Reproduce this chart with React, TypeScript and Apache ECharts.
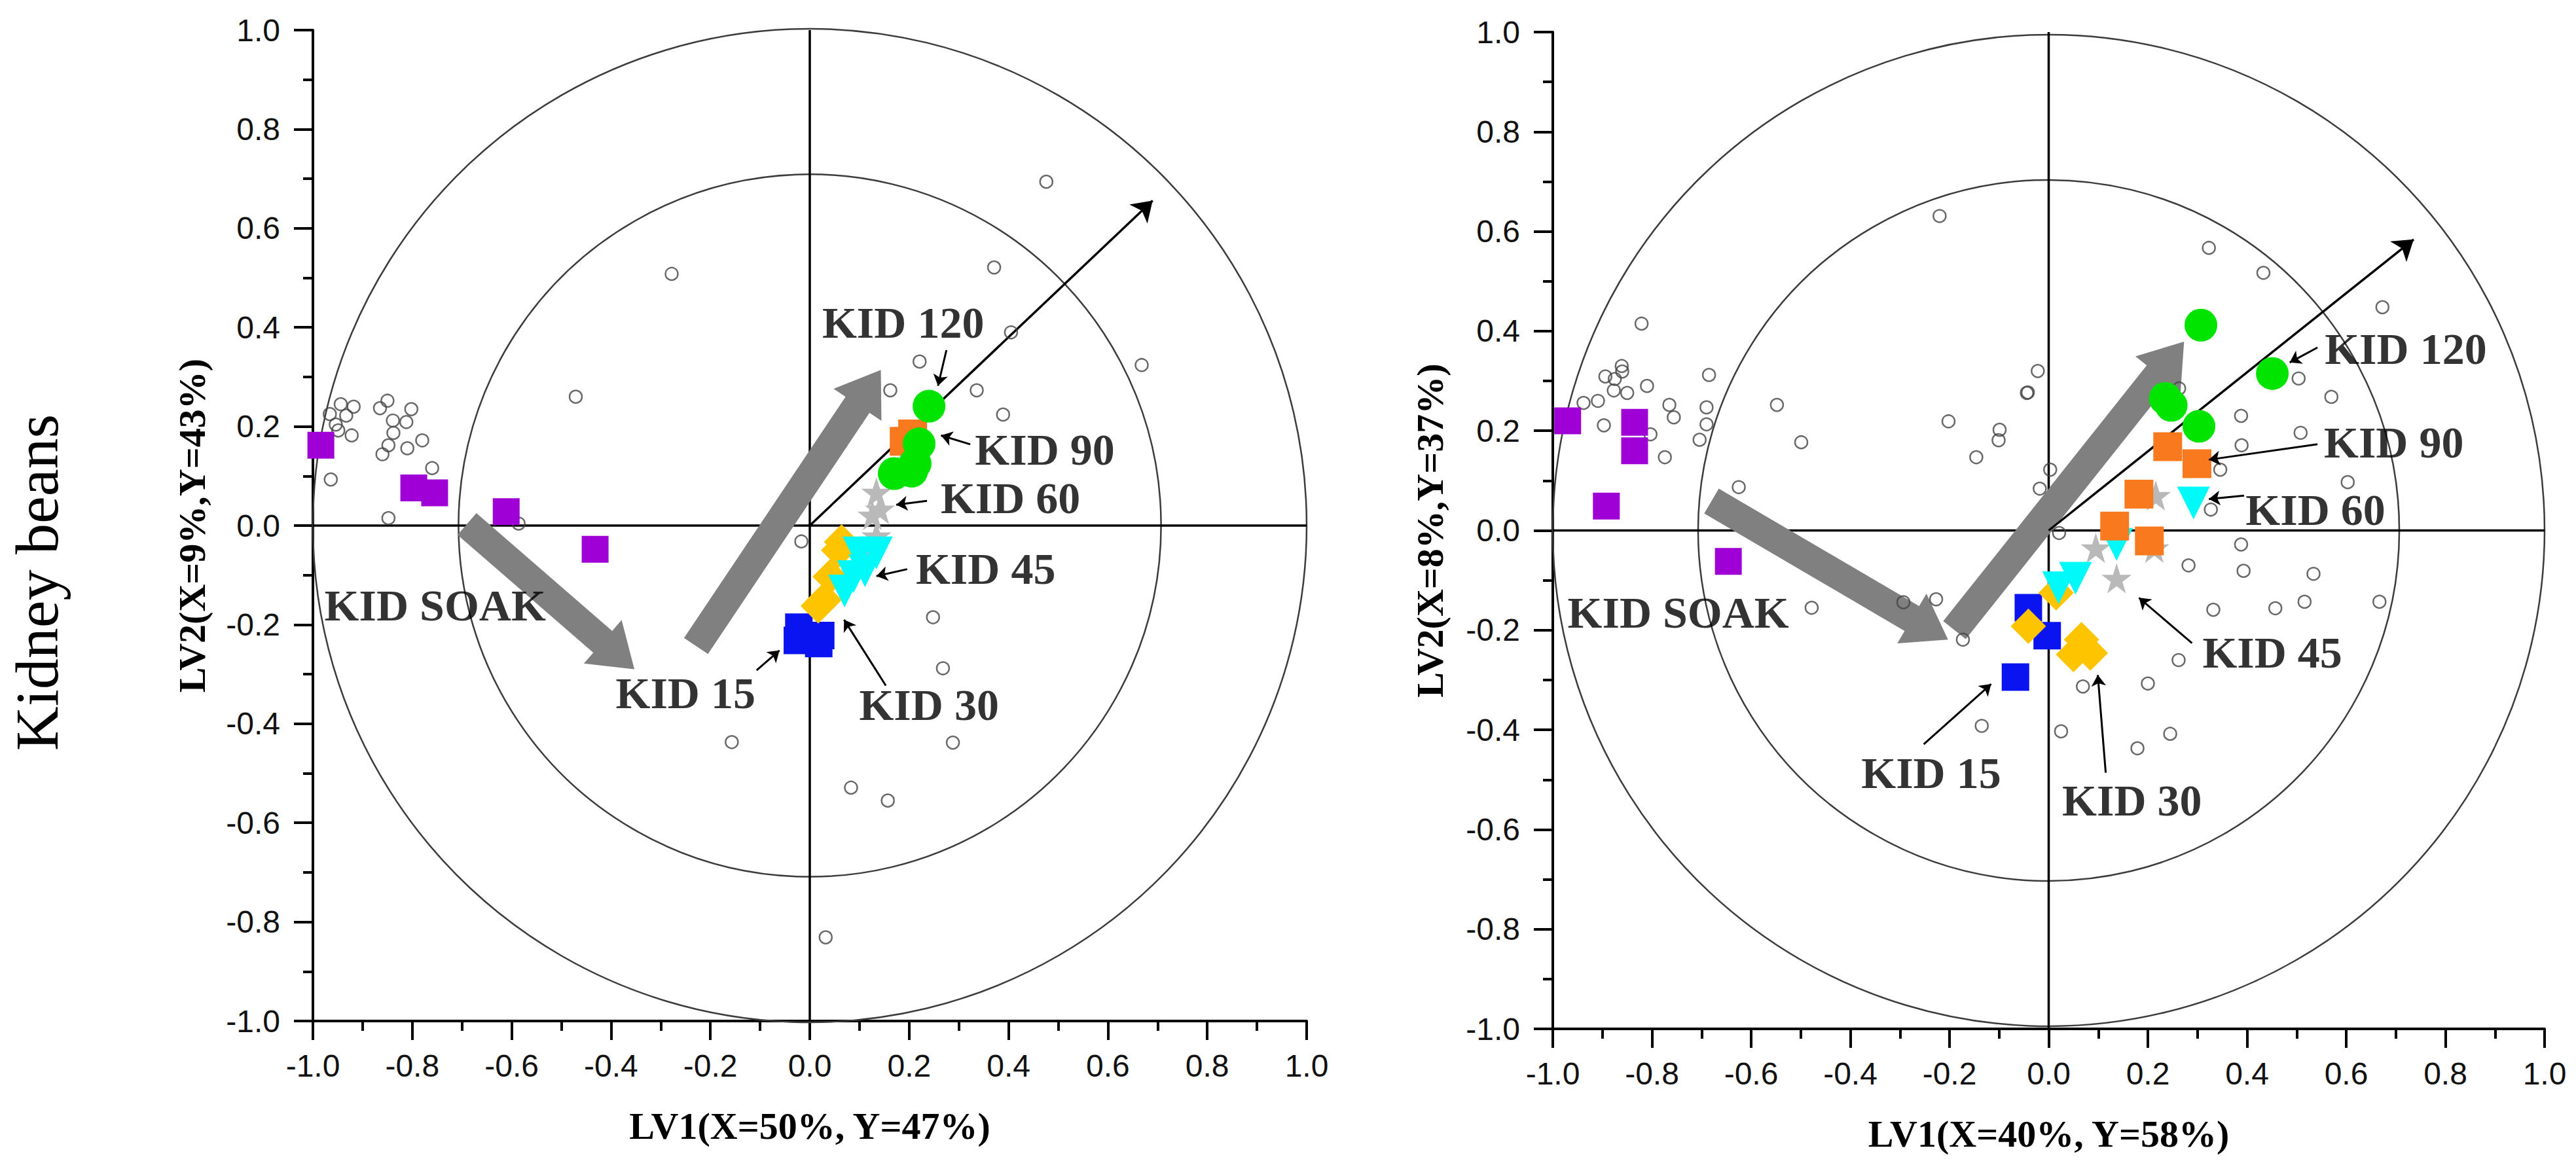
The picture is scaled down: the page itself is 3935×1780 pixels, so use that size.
import React, { useEffect, useRef } from "react";
import * as echarts from "echarts";

// ---------- data ----------
const tickValues = [-1, 1]; // axis range
const refCircles = [1.0, 0.707];
const zeroLines = [
  [-1, 0, 1, 0],
  [0, -1, 0, 1],
];

const xNames = ["LV1(X=50%, Y=47%)", "LV1(X=40%, Y=58%)"];
const yNames = ["LV2(X=9%,Y=43%)", "LV2(X=8%,Y=37%)"];
const sideTitle = "Kidney beans";

// Left panel
const leftVars = [
  [-0.966, 0.225], [-0.944, 0.245], [-0.918, 0.24], [-0.933, 0.222], [-0.954, 0.204],
  [-0.949, 0.192], [-0.922, 0.182], [-0.865, 0.237], [-0.85, 0.252], [-0.802, 0.235],
  [-0.839, 0.212], [-0.812, 0.209], [-0.838, 0.187], [-0.848, 0.162], [-0.86, 0.144],
  [-0.81, 0.156], [-0.78, 0.172], [-0.76, 0.116], [-0.964, 0.093], [-0.848, 0.015],
  [-0.471, 0.26], [-0.586, 0.004], [0.476, 0.694], [-0.278, 0.508], [0.371, 0.521],
  [0.405, 0.39], [0.221, 0.331], [0.668, 0.324], [0.162, 0.273], [0.336, 0.273],
  [0.389, 0.224], [-0.017, -0.032], [0.248, -0.185], [0.268, -0.288], [-0.157, -0.437],
  [0.288, -0.438], [0.083, -0.529], [0.157, -0.555], [0.032, -0.831],
];
const leftPurple = [[-0.984, 0.162], [-0.797, 0.076], [-0.755, 0.066], [-0.611, 0.028], [-0.432, -0.048]];
const leftBlue = [[-0.022, -0.205], [0.022, -0.222], [-0.025, -0.232], [0.018, -0.238]];
const leftYellow = [[0.064, -0.033], [0.058, -0.05], [0.041, -0.103], [0.029, -0.15], [0.017, -0.162]];
const leftStars = [[0.134, 0.067], [0.141, 0.033], [0.126, 0.021], [0.134, -0.021], [0.122, -0.044]];
const leftCyan = [[0.099, -0.055], [0.134, -0.055], [0.111, -0.091], [0.088, -0.103], [0.07, -0.132]];
const leftOrange = [[0.207, 0.185], [0.19, 0.17]];
const leftGreen = [[0.24, 0.241], [0.22, 0.165], [0.212, 0.125], [0.17, 0.105], [0.205, 0.11]];

const leftTrend = [[0, 0], [0.69, 0.656]];
const leftGrayArrows = [
  [-0.69, 0.003, -0.353, -0.29],
  [-0.229, -0.243, 0.143, 0.314],
];
const leftLabelNames = ["KID 120", "KID 90", "KID 60", "KID 45", "KID 30", "KID 15", "KID SOAK"];
const leftLabelPos = [[0.188, 0.409], [0.473, 0.153], [0.404, 0.055], [0.354, -0.087], [0.24, -0.362], [-0.25, -0.338], [-0.754, -0.161]];
const leftPointers = [
  [[0.275, 0.354], [0.258, 0.282]],
  [[0.323, 0.164], [0.264, 0.182]],
  [[0.236, 0.05], [0.174, 0.042]],
  [[0.196, -0.088], [0.134, -0.102]],
  [[0.153, -0.323], [0.069, -0.19]],
  [[-0.107, -0.292], [-0.061, -0.252]],
];

// Right panel
const rightVars = [
  [-0.821, 0.415], [-0.22, 0.631], [-0.685, 0.312], [-0.861, 0.33], [-0.86, 0.319],
  [-0.894, 0.309], [-0.875, 0.304], [-0.877, 0.281], [-0.85, 0.276], [-0.81, 0.29],
  [-0.909, 0.26], [-0.938, 0.256], [-0.897, 0.211], [-0.803, 0.193], [-0.765, 0.252],
  [-0.756, 0.227], [-0.774, 0.147], [-0.69, 0.247], [-0.69, 0.213], [-0.704, 0.182],
  [-0.548, 0.252], [-0.499, 0.177], [-0.625, 0.087], [-0.202, 0.219], [-0.146, 0.147],
  [-0.099, 0.202], [-0.101, 0.181], [-0.044, 0.276], [0.323, 0.567], [0.433, 0.517],
  [0.673, 0.448], [-0.022, 0.32], [-0.042, 0.277], [0.263, 0.285], [0.504, 0.305],
  [0.57, 0.268], [0.388, 0.23], [0.508, 0.196], [0.389, 0.171], [0.346, 0.122],
  [0.603, 0.097], [0.003, 0.122], [-0.018, 0.084], [0.327, 0.042], [0.021, -0.005],
  [0.388, -0.028], [0.282, -0.07], [0.393, -0.081], [0.534, -0.087], [0.332, -0.159],
  [0.457, -0.156], [0.516, -0.143], [0.667, -0.143], [0.262, -0.26], [0.2, -0.307],
  [0.069, -0.313], [0.025, -0.403], [0.245, -0.408], [0.179, -0.437], [-0.478, -0.155],
  [-0.293, -0.144], [-0.227, -0.138], [-0.173, -0.219], [-0.135, -0.392],
];
const rightPurple = [[-0.97, 0.22], [-0.835, 0.217], [-0.835, 0.16], [-0.892, 0.049], [-0.646, -0.062]];
const rightBlue = [[-0.041, -0.155], [-0.003, -0.211], [-0.067, -0.294]];
const rightYellow = [[-0.041, -0.192], [0.066, -0.219], [0.084, -0.246], [0.05, -0.249], [0.015, -0.125]];
const rightStars = [[0.216, 0.07], [0.095, -0.035], [0.213, -0.035], [0.137, -0.096]];
const rightCyan = [[0.292, 0.055], [0.137, -0.028], [0.054, -0.096], [0.02, -0.115]];
const rightOrange = [[0.24, 0.168], [0.299, 0.134], [0.182, 0.073], [0.133, 0.009], [0.203, -0.021]];
const rightGreen = [[0.307, 0.412], [0.451, 0.315], [0.247, 0.251], [0.303, 0.209], [0.235, 0.265]];

const rightTrend = [[0, 0], [0.736, 0.584]];
const rightGrayArrows = [
  [-0.68, 0.059, -0.203, -0.219],
  [-0.19, -0.2, 0.273, 0.379],
];
const rightLabelNames = ["KID 120", "KID 90", "KID 60", "KID 45", "KID 30", "KID 15", "KID SOAK"];
const rightLabelPos = [[0.72, 0.364], [0.696, 0.177], [0.538, 0.042], [0.451, -0.245], [0.168, -0.542], [-0.237, -0.486], [-0.747, -0.165]];
const rightPointers = [
  [[0.542, 0.367], [0.486, 0.337]],
  [[0.542, 0.173], [0.323, 0.142]],
  [[0.394, 0.07], [0.323, 0.063]],
  [[0.289, -0.226], [0.182, -0.135]],
  [[0.115, -0.486], [0.099, -0.29]],
  [[-0.252, -0.429], [-0.116, -0.308]],
];

// ---------- styles ----------
const STAR =
  "path://M50,0L61.8,35.1L98.9,35.1L68.9,56.8L80.3,91.9L50,70.2L19.7,91.9L31.1,56.8L1.1,35.1L38.2,35.1Z";
const COLORS = {
  purple: "#9E00D6",
  blue: "#0A14F0",
  yellow: "#FFC400",
  star: "#B9B9B9",
  cyan: "#00FAFA",
  orange: "#F97A1E",
  green: "#00E400",
};

const fmt = (v: number) => (Math.abs(v) < 1e-9 ? 0 : v).toFixed(1);

function axisCommon(i: number) {
  return {
    type: "value",
    gridIndex: i,
    min: tickValues[0],
    max: tickValues[1],
    interval: 0.2,
    axisLine: { onZero: false, lineStyle: { color: "#000", width: 4 } },
    axisTick: { show: true, length: 29, lineStyle: { color: "#000", width: 4 } },
    minorTick: { show: true, splitNumber: 2, length: 15, lineStyle: { color: "#000", width: 4 } },
    splitLine: { show: false },
    minorSplitLine: { show: false },
    nameLocation: "middle",
    nameTextStyle: {
      fontFamily: "Liberation Serif",
      fontWeight: "bold",
      fontSize: 58,
      color: "#000",
      align: "center",
      verticalAlign: "middle",
    },
  };
}

function panelSeries(i: number, d: any) {
  const ax = { xAxisIndex: i, yAxisIndex: i };
  const scat = (data: number[][], symbol: string, size: number, color: string, extra: any = {}) => ({
    type: "scatter",
    ...ax,
    data,
    symbol,
    symbolSize: size,
    itemStyle: { color, opacity: 1 },
    z: 6,
    silent: true,
    ...extra,
  });
  return [
    {
      type: "custom",
      ...ax,
      silent: true,
      z: 1,
      data: refCircles.map((r) => [0, 0, r]),
      encode: { x: 0, y: 1 },
      renderItem: (params: any, api: any) => {
        const c = api.coord([api.value(0), api.value(1)]);
        const r = api.size([api.value(2), 0])[0];
        return {
          type: "circle",
          shape: { cx: c[0], cy: c[1], r },
          style: { fill: "none", stroke: "#3c3c3c", lineWidth: 2.5 },
        };
      },
    },
    {
      type: "custom",
      ...ax,
      silent: true,
      z: 2,
      data: zeroLines,
      encode: { x: [0, 2], y: [1, 3] },
      renderItem: (params: any, api: any) => {
        const a = api.coord([api.value(0), api.value(1)]);
        const b = api.coord([api.value(2), api.value(3)]);
        return {
          type: "line",
          shape: { x1: a[0], y1: a[1], x2: b[0], y2: b[1] },
          style: { stroke: "#000", lineWidth: 3.5 },
        };
      },
    },
    {
      type: "custom",
      ...ax,
      silent: true,
      z: 3,
      data: d.gray,
      encode: { x: [0, 2], y: [1, 3] },
      renderItem: (params: any, api: any) => {
        const s = api.coord([api.value(0), api.value(1)]);
        const e = api.coord([api.value(2), api.value(3)]);
        const dx = e[0] - s[0];
        const dy = e[1] - s[1];
        const len = Math.sqrt(dx * dx + dy * dy);
        const ux = dx / len;
        const uy = dy / len;
        const nx = -uy;
        const ny = ux;
        const w = 22;
        const h = 44;
        const L = 64;
        const bx = e[0] - ux * L;
        const by = e[1] - uy * L;
        const pts = [
          [s[0] + nx * w, s[1] + ny * w],
          [bx + nx * w, by + ny * w],
          [bx + nx * h, by + ny * h],
          [e[0], e[1]],
          [bx - nx * h, by - ny * h],
          [bx - nx * w, by - ny * w],
          [s[0] - nx * w, s[1] - ny * w],
        ];
        return { type: "polygon", shape: { points: pts }, style: { fill: "#808080" } };
      },
    },
    {
      type: "lines",
      coordinateSystem: "cartesian2d",
      ...ax,
      silent: true,
      z: 4,
      symbol: ["none", "arrow"],
      symbolSize: 30,
      lineStyle: { color: "#000", width: 3.5, opacity: 1 },
      data: [{ coords: d.trend }],
    },
    {
      type: "scatter",
      ...ax,
      silent: true,
      z: 5,
      data: d.vars,
      symbol: "circle",
      symbolSize: 19,
      itemStyle: { color: "rgba(255,255,255,0)", borderColor: "#444", borderWidth: 2.5 },
    },
    scat(d.purple, "rect", 41, COLORS.purple),
    scat(d.blue, "rect", 42, COLORS.blue),
    scat(d.yellow, "diamond", 54, COLORS.yellow),
    scat(d.stars, STAR, 46, COLORS.star),
    scat(d.cyan, "triangle", 50, COLORS.cyan, { symbolRotate: 180 }),
    scat(d.orange, "rect", 44, COLORS.orange),
    scat(d.green, "circle", 50, COLORS.green),
    {
      type: "lines",
      coordinateSystem: "cartesian2d",
      ...ax,
      silent: true,
      z: 7,
      symbol: ["none", "arrow"],
      symbolSize: 17,
      lineStyle: { color: "#000", width: 3, opacity: 1 },
      data: d.pointers.map((c: number[][]) => ({ coords: c })),
    },
    {
      type: "scatter",
      ...ax,
      silent: true,
      z: 8,
      symbolSize: 1,
      itemStyle: { color: "rgba(0,0,0,0)" },
      data: d.labelPos.map((p: number[], k: number) => ({ value: p, name: d.labelNames[k] })),
      label: {
        show: true,
        position: "inside",
        formatter: "{b}",
        fontFamily: "Liberation Serif",
        fontWeight: "bold",
        fontSize: 68,
        color: "#000",
      },
    },
  ];
}

export default function App() {
  const ref = useRef<HTMLDivElement>(null);
  useEffect(() => {
    document.body.style.margin = "0";
    const chart = echarts.init(ref.current as HTMLDivElement, null, { renderer: "svg" });
    const grids = [
      { left: 478, top: 46, width: 1518, height: 1514 },
      { left: 2372, top: 49, width: 1515, height: 1523 },
    ];
    const xAxes = [0, 1].map((i) => ({
      ...axisCommon(i),
      name: xNames[i],
      nameGap: 160,
      axisLabel: { fontSize: 48, color: "#111", fontFamily: "Liberation Sans", margin: 44, formatter: fmt },
    }));
    const yAxes = [0, 1].map((i) => ({
      ...axisCommon(i),
      name: yNames[i],
      nameGap: i === 0 ? 185 : 188,
      nameRotate: 90,
      axisLabel: { fontSize: 48, color: "#111", fontFamily: "Liberation Sans", margin: 50, formatter: fmt },
    }));
    const left = {
      vars: leftVars, purple: leftPurple, blue: leftBlue, yellow: leftYellow, stars: leftStars,
      cyan: leftCyan, orange: leftOrange, green: leftGreen, trend: leftTrend, gray: leftGrayArrows,
      labelNames: leftLabelNames, labelPos: leftLabelPos, pointers: leftPointers,
    };
    const right = {
      vars: rightVars, purple: rightPurple, blue: rightBlue, yellow: rightYellow, stars: rightStars,
      cyan: rightCyan, orange: rightOrange, green: rightGreen, trend: rightTrend, gray: rightGrayArrows,
      labelNames: rightLabelNames, labelPos: rightLabelPos, pointers: rightPointers,
    };
    chart.setOption({
      animation: false,
      backgroundColor: "#fff",
      grid: grids,
      xAxis: xAxes,
      yAxis: yAxes,
      series: [...panelSeries(0, left), ...panelSeries(1, right)],
      graphic: [
        {
          type: "text",
          x: 56,
          y: 890,
          rotation: Math.PI / 2,
          style: {
            text: sideTitle,
            fontFamily: "Liberation Serif",
            fontSize: 94,
            fill: "#000",
            align: "center",
            verticalAlign: "middle",
          },
        },
      ],
    });
    return () => chart.dispose();
  }, []);
  return <div ref={ref} style={{ width: 3935, height: 1780 }} />;
}
